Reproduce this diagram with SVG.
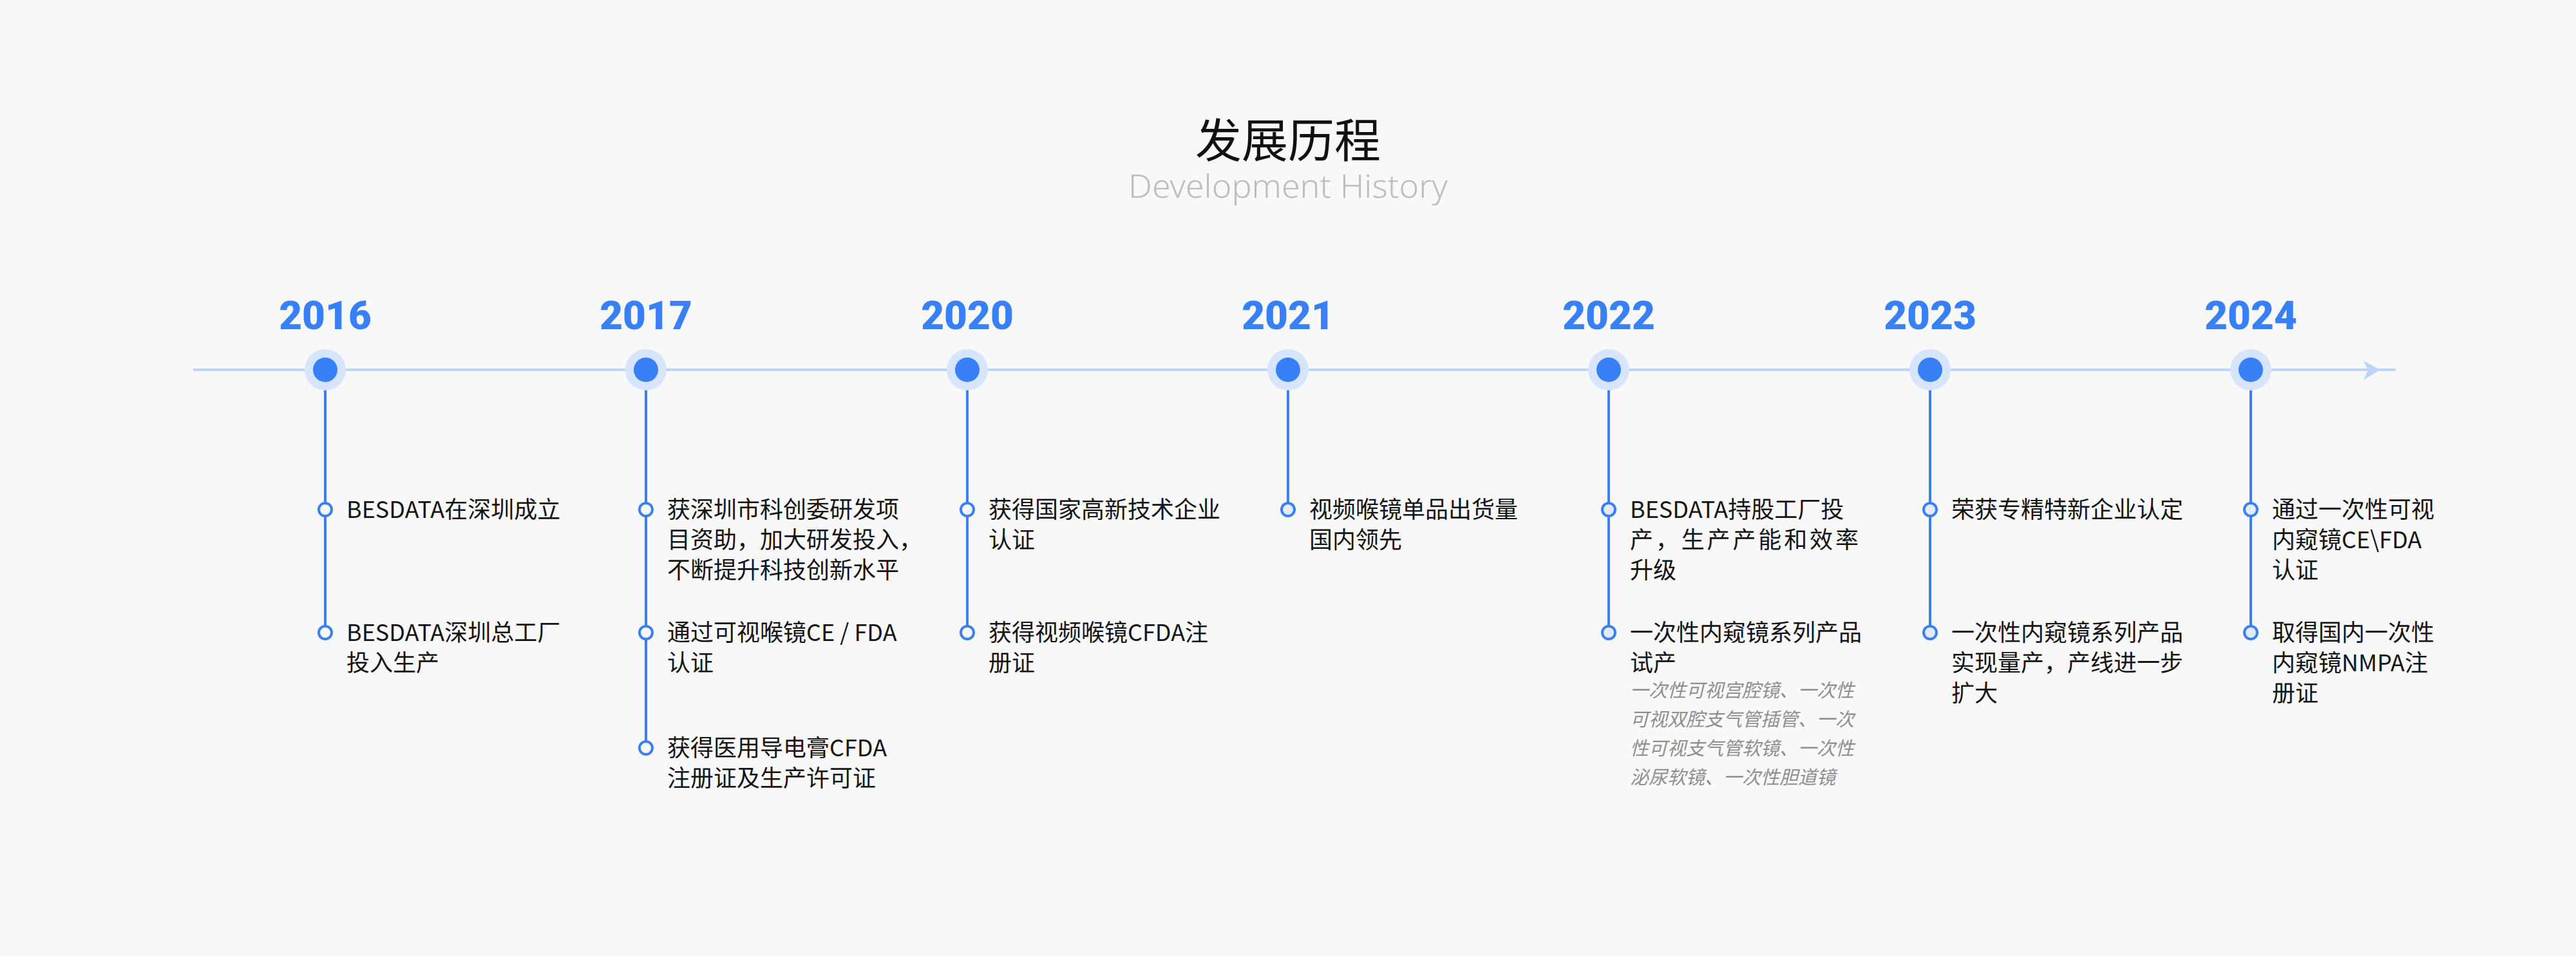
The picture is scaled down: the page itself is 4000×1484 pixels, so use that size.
<svg xmlns="http://www.w3.org/2000/svg" width="4000" height="1484" viewBox="0 0 4000 1484">
<defs>
<style>
.t{font-family:"Noto Sans CJK SC","Noto Sans",sans-serif;font-size:36px;fill:#141414}
.g{font-family:"Noto Sans CJK SC","Noto Sans",sans-serif;font-size:29px;fill:#8f8f8f;font-style:italic}
.yr{font-family:Roboto,"Liberation Sans",sans-serif;font-weight:900;font-size:62px;fill:#3780F8;text-anchor:middle}
.halo{fill:#D6E5FC}
.dot{fill:#3780F8}
.vl{stroke:#3780F8;stroke-width:4;fill:none}
.m1{fill:#F8F8F8;stroke:#3780F8;stroke-width:4}
.m2{fill:#E3EAF8;stroke:#3780F8;stroke-width:4}
</style>
</defs>
<rect width="4000" height="1484" fill="#F8F8F8"/>
<g id="title">
<text x="2000" y="244" text-anchor="middle" style="font-family:'Noto Sans CJK SC',sans-serif;font-size:72px;fill:#111">发展历程</text>
<text x="2000" y="307" text-anchor="middle" textLength="496" lengthAdjust="spacingAndGlyphs" style="font-family:'Noto Sans','Noto Sans CJK SC',sans-serif;font-weight:300;font-size:49px;fill:#BDBDBD">Development History</text>
</g>
<g id="connectors">
<line x1="300" y1="574" x2="3720" y2="574" stroke="#BDD4FA" stroke-width="4"/>
<polygon points="3670,560 3696,574 3670,590 3677,574" fill="#BDD4FA"/>
<line class="vl" x1="505" y1="574" x2="505" y2="982"/>
<line class="vl" x1="1003" y1="574" x2="1003" y2="1161"/>
<line class="vl" x1="1502" y1="574" x2="1502" y2="982"/>
<line class="vl" x1="2000" y1="574" x2="2000" y2="791"/>
<line class="vl" x1="2498" y1="574" x2="2498" y2="982"/>
<line class="vl" x1="2997" y1="574" x2="2997" y2="982"/>
<line class="vl" x1="3495" y1="574" x2="3495" y2="982"/>
</g>
<g id="y2016">
<text class="yr" x="505" y="511">2016</text>
<circle class="halo" cx="505" cy="574" r="32"/><circle class="dot" cx="505" cy="574" r="19"/>
<circle class="m1" cx="505" cy="791" r="10"/>
<text class="t" x="538" y="804">BESDATA在深圳成立</text>
<circle class="m1" cx="505" cy="982" r="10"/>
<text class="t" x="538" y="995">BESDATA深圳总工厂</text>
<text class="t" x="538" y="1042">投入生产</text>
</g>
<g id="y2017">
<text class="yr" x="1003" y="511">2017</text>
<circle class="halo" cx="1003" cy="574" r="32"/><circle class="dot" cx="1003" cy="574" r="19"/>
<circle class="m1" cx="1003" cy="791" r="10"/>
<text class="t" x="1036" y="804">获深圳市科创委研发项</text>
<text class="t" x="1036" y="851">目资助，加大研发投入，</text>
<text class="t" x="1036" y="898">不断提升科技创新水平</text>
<circle class="m1" cx="1003" cy="982" r="10"/>
<text class="t" x="1036" y="995">通过可视喉镜CE / FDA</text>
<text class="t" x="1036" y="1042">认证</text>
<circle class="m1" cx="1003" cy="1161" r="10"/>
<text class="t" x="1036" y="1174">获得医用导电膏CFDA</text>
<text class="t" x="1036" y="1221">注册证及生产许可证</text>
</g>
<g id="y2020">
<text class="yr" x="1502" y="511">2020</text>
<circle class="halo" cx="1502" cy="574" r="32"/><circle class="dot" cx="1502" cy="574" r="19"/>
<circle class="m1" cx="1502" cy="791" r="10"/>
<text class="t" x="1535" y="804">获得国家高新技术企业</text>
<text class="t" x="1535" y="851">认证</text>
<circle class="m1" cx="1502" cy="982" r="10"/>
<text class="t" x="1535" y="995">获得视频喉镜CFDA注</text>
<text class="t" x="1535" y="1042">册证</text>
</g>
<g id="y2021">
<text class="yr" x="2000" y="511">2021</text>
<circle class="halo" cx="2000" cy="574" r="32"/><circle class="dot" cx="2000" cy="574" r="19"/>
<circle class="m2" cx="2000" cy="791" r="10"/>
<text class="t" x="2033" y="804">视频喉镜单品出货量</text>
<text class="t" x="2033" y="851">国内领先</text>
</g>
<g id="y2022">
<text class="yr" x="2498" y="511">2022</text>
<circle class="halo" cx="2498" cy="574" r="32"/><circle class="dot" cx="2498" cy="574" r="19"/>
<circle class="m2" cx="2498" cy="791" r="10"/>
<text class="t" x="2531" y="804">BESDATA持股工厂投</text>
<text class="t" x="2531" y="851" textLength="355" lengthAdjust="spacing">产，生产产能和效率</text>
<text class="t" x="2531" y="898">升级</text>
<circle class="m2" cx="2498" cy="982" r="10"/>
<text class="t" x="2531" y="995">一次性内窥镜系列产品</text>
<text class="t" x="2531" y="1042">试产</text>
<text class="g" x="2531" y="1082">一次性可视宫腔镜、一次性</text>
<text class="g" x="2531" y="1127">可视双腔支气管插管、一次</text>
<text class="g" x="2531" y="1172">性可视支气管软镜、一次性</text>
<text class="g" x="2531" y="1217">泌尿软镜、一次性胆道镜</text>
</g>
<g id="y2023">
<text class="yr" x="2997" y="511">2023</text>
<circle class="halo" cx="2997" cy="574" r="32"/><circle class="dot" cx="2997" cy="574" r="19"/>
<circle class="m2" cx="2997" cy="791" r="10"/>
<text class="t" x="3030" y="804">荣获专精特新企业认定</text>
<circle class="m2" cx="2997" cy="982" r="10"/>
<text class="t" x="3030" y="995">一次性内窥镜系列产品</text>
<text class="t" x="3030" y="1042">实现量产，产线进一步</text>
<text class="t" x="3030" y="1089">扩大</text>
</g>
<g id="y2024">
<text class="yr" x="3495" y="511">2024</text>
<circle class="halo" cx="3495" cy="574" r="32"/><circle class="dot" cx="3495" cy="574" r="19"/>
<circle class="m2" cx="3495" cy="791" r="10"/>
<text class="t" x="3528" y="804">通过一次性可视</text>
<text class="t" x="3528" y="851">内窥镜CE\FDA</text>
<text class="t" x="3528" y="898">认证</text>
<circle class="m2" cx="3495" cy="982" r="10"/>
<text class="t" x="3528" y="995">取得国内一次性</text>
<text class="t" x="3528" y="1042">内窥镜NMPA注</text>
<text class="t" x="3528" y="1089">册证</text>
</g>
</svg>
